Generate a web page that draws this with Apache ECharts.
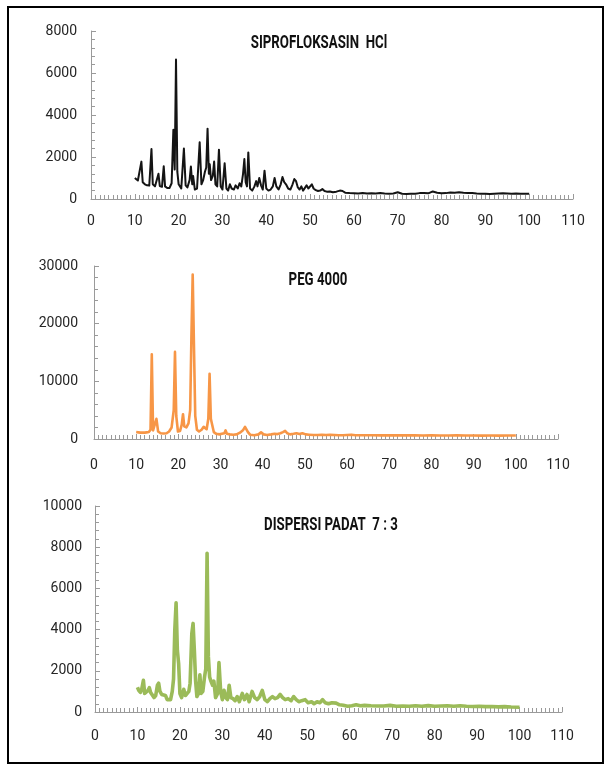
<!DOCTYPE html>
<html><head><meta charset="utf-8">
<script src="https://cdn.jsdelivr.net/npm/echarts@6/dist/echarts.min.js"></script>
<style>html,body{margin:0;padding:0;background:#fff}#c{width:606px;height:765px}</style>
</head><body><div id="c"></div>
<script>
// Panel titles
const titles = ['SIPROFLOKSASIN  HCl', 'PEG 4000', 'DISPERSI PADAT  7 : 3'];
// Axis ticks
const xTicks = [0,10,20,30,40,50,60,70,80,90,100,110];
const yMax = [8000, 30000, 10000];
const yStep = [2000, 10000, 2000];

// SIPROFLOKSASIN HCl (2-theta, intensity)
const sipX = [10.0,10.3,10.7,11.1,11.5,11.8,12.3,12.8,13.3,13.8,14.1,14.6,15.0,15.4,15.7,16.2,16.6,16.9,17.4,17.9,18.4,18.8,19.1,19.4,19.7,20.0,20.6,21.2,21.6,22.0,22.5,22.8,23.1,23.3,23.7,24.2,24.8,25.2,25.6,26.0,26.3,26.6,26.9,27.1,27.4,27.8,28.1,28.4,28.8,29.2,29.6,30.0,30.5,30.9,31.3,31.7,32.1,32.6,33.0,33.5,33.9,34.3,34.7,35.0,35.3,35.6,35.9,36.3,36.8,37.3,37.7,38.0,38.4,38.8,39.2,39.6,40.0,40.5,41.0,41.5,41.9,42.3,42.8,43.3,43.7,44.1,44.5,45.0,45.5,46.0,46.4,46.8,47.2,47.6,48.0,48.4,48.8,49.2,49.6,50.0,50.4,50.8,51.3,51.8,52.3,52.8,53.3,53.8,54.5,55.2,56.0,56.8,57.4,58.0,59.0,60.0,61.0,62.0,63.0,64.0,65.0,66.0,67.0,68.0,69.0,70.0,71.0,72.0,73.0,74.0,75.0,76.0,77.0,78.0,79.0,80.0,81.0,82.0,83.0,84.0,85.0,86.0,87.0,88.0,89.0,90.0,91.0,92.0,93.0,94.0,95.0,96.0,97.0,98.0,99.0,100.0];
const sipY = [1000,920,880,820,1780,800,700,650,640,2380,700,600,650,1200,620,580,1560,600,520,520,750,3300,1400,6640,1300,700,500,2400,650,550,900,1550,700,1100,450,500,2700,700,900,1300,1500,3350,1200,1650,900,1100,1780,700,600,2350,600,450,1700,500,400,700,500,450,650,500,750,600,1200,1900,800,600,2220,500,400,600,850,600,1000,650,450,1350,500,400,450,600,1000,600,450,700,1050,800,700,500,450,700,950,850,550,450,600,400,450,650,500,550,700,500,420,380,400,470,380,350,360,320,350,400,380,300,280,270,260,290,260,270,260,280,260,250,260,320,250,240,250,250,280,290,270,360,300,270,280,310,300,320,300,290,280,260,250,250,240,250,260,270,260,250,260,250,250,250];

// PEG 4000
const pegX = [10.0,10.5,11.0,11.5,12.0,12.5,13.0,13.4,13.7,14.0,14.4,14.8,15.2,15.8,16.5,17.2,17.8,18.4,18.9,19.2,19.5,19.9,20.4,20.8,21.1,21.4,21.9,22.4,22.8,23.1,23.4,23.7,24.0,24.4,24.9,25.5,26.0,26.3,26.7,27.1,27.4,27.7,28.0,28.4,29.0,29.7,30.3,30.9,31.2,31.5,32.2,33.0,33.8,34.6,35.3,35.8,36.1,36.5,37.0,38.0,39.0,39.6,40.2,41.0,42.0,42.8,43.5,44.2,44.8,45.3,45.8,46.5,47.3,48.0,48.7,49.4,50.2,51.0,52.0,53.0,54.0,55.0,56.0,57.0,58.0,59.0,60.0,61.0,62.0,64.0,66.0,68.0,70.0,72.0,74.0,76.0,78.0,80.0,82.0,84.0,86.0,88.0,90.0,92.0,94.0,96.0,98.0,100.0];
const pegY = [1200,1150,1100,1100,1100,1150,1200,1600,14700,1500,1400,3500,1300,1000,950,1000,1300,2000,5000,15100,4000,1300,1400,2500,4300,2200,2000,2700,5000,18000,28500,16000,4000,1600,1300,1600,2100,2200,1700,3500,11300,3500,2500,1200,900,800,900,1000,1500,900,800,750,800,1100,1500,2100,2350,1200,750,650,800,1150,800,700,800,900,850,1000,1200,1400,1000,800,900,1000,850,1000,800,750,700,700,750,700,750,700,650,650,700,750,650,650,650,620,640,620,620,630,600,620,600,600,620,600,600,590,600,590,600,600];

// DISPERSI PADAT 7 : 3
const dpX = [10.0,10.3,10.7,11.0,11.4,11.7,12.1,12.5,12.8,13.1,13.5,13.9,14.3,14.7,15.0,15.3,15.7,16.1,16.6,17.0,17.4,17.8,18.2,18.5,18.8,19.1,19.4,19.7,20.0,20.4,20.9,21.3,21.7,22.1,22.4,22.8,23.1,23.4,23.7,24.0,24.4,24.7,25.0,25.4,25.8,26.1,26.4,26.7,27.0,27.3,27.7,28.0,28.4,28.9,29.2,29.6,30.0,30.4,30.8,31.2,31.6,32.0,32.5,33.0,33.5,34.0,34.7,35.2,35.8,36.3,37.0,37.6,38.2,38.8,39.4,40.0,40.6,41.2,41.8,42.4,43.0,43.6,44.2,44.8,45.5,46.2,46.8,47.4,48.0,48.7,49.5,50.2,51.0,51.6,52.3,53.0,53.6,54.2,55.0,55.8,56.8,57.6,58.5,59.5,60.5,61.5,62.5,63.5,65.0,66.5,68.0,69.5,71.0,72.5,74.0,75.5,77.0,78.5,80.0,81.5,83.0,84.5,86.0,87.5,89.0,90.5,92.0,93.5,95.0,96.5,98.0,100.0];
const dpY = [1200,1050,950,1100,1540,900,850,1050,1180,950,1000,700,800,1300,1400,1000,850,900,800,600,650,600,1000,1600,4000,5300,3000,2350,900,700,1100,800,850,1000,1400,3800,4300,3000,1500,750,900,1800,900,1000,1700,2100,7700,2700,1700,1500,1300,1500,700,900,2400,1000,600,1050,700,600,1300,700,650,550,750,500,900,600,850,500,1000,700,600,750,1050,600,500,650,750,650,700,850,700,600,650,550,750,600,500,550,600,450,500,400,500,450,600,450,400,450,430,350,330,280,300,350,300,320,300,290,290,320,280,290,280,300,280,310,280,290,300,280,300,280,270,280,260,270,250,260,240,230];

const xs = [sipX, pegX, dpX];
const ys = [sipY, pegY, dpY];
const colors = ['#141414', '#F79646', '#9BBB59'];
const widths = [2, 2.6, 3.6];

const grids = [
  {left: 91, width: 482, top: 31, height: 168},
  {left: 94, width: 464, top: 266, height: 173},
  {left: 95, width: 467, top: 506, height: 206}
];
const xMargins = [15, 19, 17];
const yMargins = [14, 16, 13];
const titlePos = [[319, 43], [318, 280], [331, 525]];

const FONT = "Roboto,'Noto Sans',sans-serif";
const axisGrey = '#9a9a9a';

const option = {
  animation: false,
  backgroundColor: '#fff',
  grid: grids,
  xAxis: grids.map((g, i) => ({
    type: 'value', gridIndex: i, min: xTicks[0], max: xTicks[xTicks.length - 1], interval: 10,
    axisLine: {show: true, lineStyle: {color: axisGrey, width: 1}},
    axisTick: {show: true, inside: true, length: 5, lineStyle: {color: axisGrey}},
    minorTick: {show: true, splitNumber: 10, length: 4, lineStyle: {color: axisGrey}},
    splitLine: {show: false},
    axisLabel: {color: '#262626', fontSize: 14, fontFamily: FONT, margin: xMargins[i], formatter: v => String(v)}
  })),
  yAxis: grids.map((g, i) => ({
    type: 'value', gridIndex: i, min: 0, max: yMax[i], interval: yStep[i],
    axisLine: {show: true, lineStyle: {color: axisGrey, width: 1}},
    axisTick: {show: true, inside: true, length: 5, lineStyle: {color: axisGrey}},
    minorTick: {show: true, splitNumber: 5, length: 4, lineStyle: {color: axisGrey}},
    splitLine: {show: false},
    axisLabel: {color: '#262626', fontSize: 14, fontFamily: FONT, margin: yMargins[i], formatter: v => String(v)}
  })),
  series: xs.map((xv, i) => ({
    type: 'line', xAxisIndex: i, yAxisIndex: i, showSymbol: false, symbol: 'none',
    lineStyle: {color: colors[i], width: widths[i], join: 'round'},
    data: xv.map((x, k) => [x, ys[i][k]])
  })),
  graphic: [
    {type: 'rect', shape: {x: 8, y: 7, width: 595, height: 756}, style: {fill: 'none', stroke: '#000', lineWidth: 2}, silent: true}
  ].concat(titles.map((t, i) => ({
    type: 'text', x: titlePos[i][0], y: titlePos[i][1], scaleX: 0.78, scaleY: 1.12,
    style: {text: t, fill: '#111', font: "bold 17px " + FONT, textAlign: 'center', textVerticalAlign: 'middle'}
  })))
};
echarts.init(document.getElementById('c'), null, {renderer: 'canvas'}).setOption(option);
</script></body></html>
